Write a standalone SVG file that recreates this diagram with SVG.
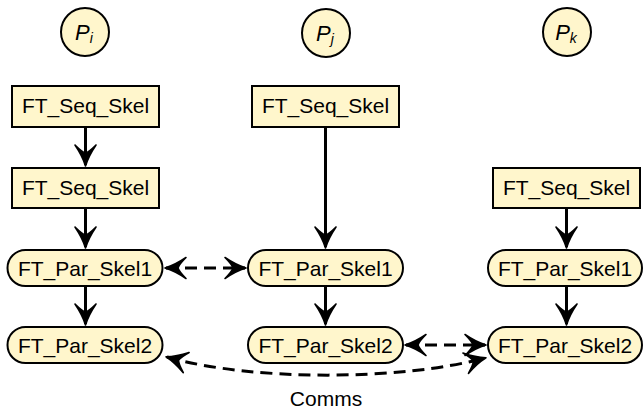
<svg xmlns="http://www.w3.org/2000/svg" width="643" height="410" viewBox="0 0 643 410">
<style>
.node{fill:#fff6cc;stroke:#000;stroke-width:2}
.lbl{font-family:"Liberation Sans",Arial,sans-serif;font-size:21px;fill:#000;text-anchor:middle}
.pl{font-family:"Liberation Sans",Arial,sans-serif;font-size:22px;font-style:italic;fill:#000;text-anchor:middle}
.arr{fill:none;stroke:#000;stroke-width:3}
.dash{stroke-dasharray:12 7}
</style>
<defs>
<marker id="ah" markerUnits="userSpaceOnUse" viewBox="-24 -13 26 26" refX="0" refY="0" markerWidth="26" markerHeight="26" orient="auto-start-reverse">
<path d="M1,0 Q-9,-3 -20,-10.5 Q-13,-3.5 -12,0 Q-13,3.5 -20,10.5 Q-9,3 1,0 Z" fill="#000" stroke="#000" stroke-width="1.6" stroke-linejoin="round"/>
</marker>
</defs>
<g id="connectors">
<path class="arr" d="M85.5,127 V165" marker-end="url(#ah)"/>
<path class="arr" d="M85.5,208 V247" marker-end="url(#ah)"/>
<path class="arr" d="M85.5,286 V324" marker-end="url(#ah)"/>
<path class="arr" d="M325.5,127 V247" marker-end="url(#ah)"/>
<path class="arr" d="M325.5,286 V324" marker-end="url(#ah)"/>
<path class="arr" d="M566.5,208 V247" marker-end="url(#ah)"/>
<path class="arr" d="M566.5,286 V324" marker-end="url(#ah)"/>
<path class="arr dash" d="M166,268 H245" marker-start="url(#ah)" marker-end="url(#ah)"/>
<path class="arr dash" d="M406,345 H485" marker-start="url(#ah)" marker-end="url(#ah)"/>
<path class="arr dash" d="M167,357 C250,381 400,381 485,358" marker-start="url(#ah)" marker-end="url(#ah)"/>
</g>
<g id="Pi"><circle class="node" cx="85" cy="32" r="24"/><text class="pl" x="84" y="39.5">P<tspan font-size="14" dy="3">i</tspan></text></g>
<g id="Pj"><circle class="node" cx="326" cy="33" r="24"/><text class="pl" x="325" y="40.5">P<tspan font-size="14" dy="3">j</tspan></text></g>
<g id="Pk"><circle class="node" cx="567" cy="32" r="24"/><text class="pl" x="566" y="39.5">P<tspan font-size="14" dy="3">k</tspan></text></g>
<g id="i_seq1"><rect class="node" x="12" y="86" width="147" height="41"/><text class="lbl" x="85.5" y="113">FT_Seq_Skel</text></g>
<g id="i_seq2"><rect class="node" x="12" y="168" width="147" height="40"/><text class="lbl" x="85.5" y="194.5">FT_Seq_Skel</text></g>
<g id="i_par1"><rect class="node" x="7.5" y="250" width="155" height="36" rx="18"/><text class="lbl" x="85" y="275.5">FT_Par_Skel1</text></g>
<g id="i_par2"><rect class="node" x="7.5" y="327" width="155" height="36" rx="18"/><text class="lbl" x="85" y="352.5">FT_Par_Skel2</text></g>
<g id="j_seq1"><rect class="node" x="252" y="86" width="147" height="41"/><text class="lbl" x="325.5" y="113">FT_Seq_Skel</text></g>
<g id="j_par1"><rect class="node" x="248" y="250" width="155" height="36" rx="18"/><text class="lbl" x="325.5" y="275.5">FT_Par_Skel1</text></g>
<g id="j_par2"><rect class="node" x="248" y="327" width="155" height="36" rx="18"/><text class="lbl" x="325.5" y="352.5">FT_Par_Skel2</text></g>
<g id="k_seq1"><rect class="node" x="493" y="168" width="147" height="40"/><text class="lbl" x="566.5" y="194.5">FT_Seq_Skel</text></g>
<g id="k_par1"><rect class="node" x="488" y="250" width="154" height="36" rx="18"/><text class="lbl" x="565" y="275.5">FT_Par_Skel1</text></g>
<g id="k_par2"><rect class="node" x="488" y="327" width="154" height="36" rx="18"/><text class="lbl" x="565" y="352.5">FT_Par_Skel2</text></g>
<text class="lbl" x="326" y="406">Comms</text>
</svg>
